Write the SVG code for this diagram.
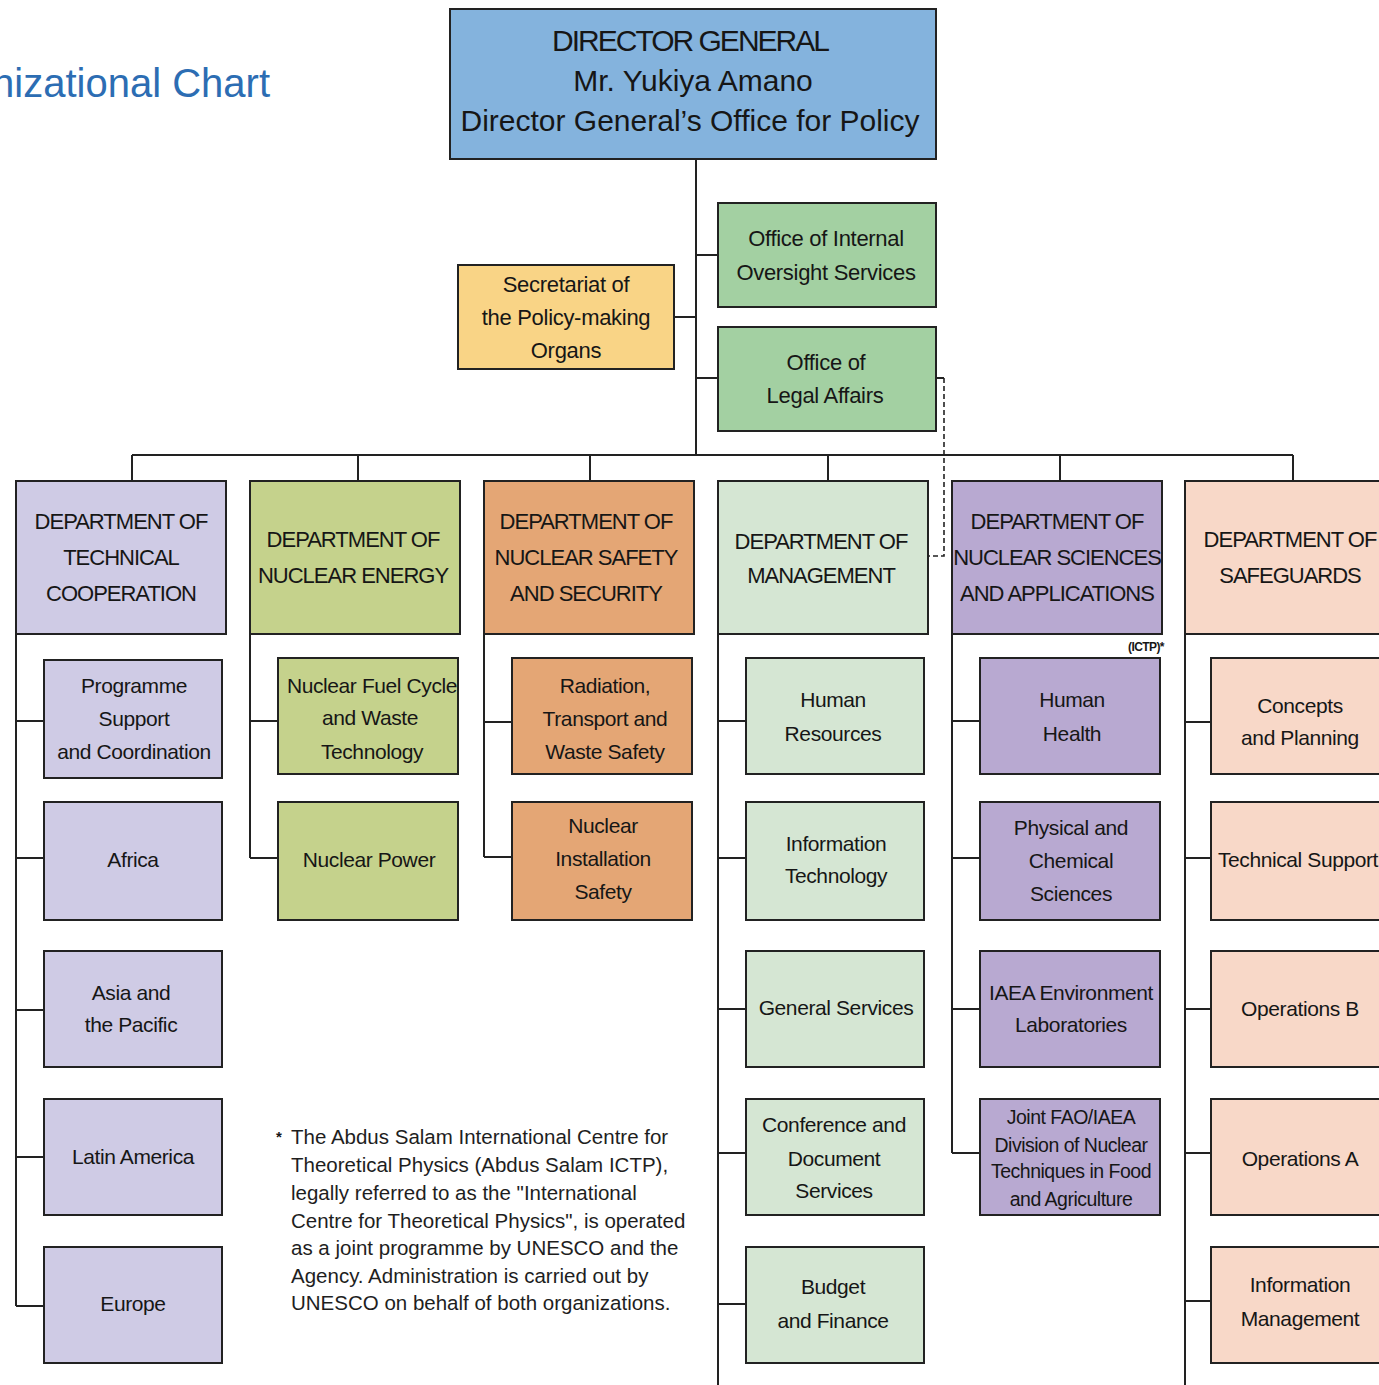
<svg xmlns="http://www.w3.org/2000/svg" width="1379" height="1385" viewBox="0 0 1379 1385">
<style>
text{font-family:"Liberation Sans",Arial,sans-serif;fill:#161616;text-anchor:middle}
.box{stroke:#222;stroke-width:2}
.t30{font-size:30px}
.cap30{font-size:30px;letter-spacing:-2px}
.t22{font-size:22px;letter-spacing:-0.3px}
.dep{font-size:22px;letter-spacing:-1px}
.t21{font-size:21px;letter-spacing:-0.4px}
.t20{font-size:19.5px;letter-spacing:-0.5px}
.note{font-size:20.5px;letter-spacing:0px;text-anchor:start;fill:#1e1e1e}
.ln{fill:none;stroke:#222;stroke-width:2}
.dg{fill:#84b3dd}.og{fill:#a3d0a2}.sec{fill:#f9d486}
.tc{fill:#cfcbe5}.ne{fill:#c5d28c}.ns{fill:#e4a675}.mg{fill:#d5e6d3}.sa{fill:#b8a9d1}.sg{fill:#f8d8c8}
</style>
<rect width="1379" height="1385" fill="#fff"/>
<text x="270" y="97" style="font-size:40px;fill:#2c6db3;text-anchor:end;font-family:'Liberation Sans',Arial,sans-serif">nizational Chart</text>

<g id="connectors">
<path class="ln" d="M696,159 V455 M674,317 H696 M696,255 H718 M696,378 H718"/>
<path class="ln" d="M132,455 H1293 M132,455 V481 M358,455 V481 M590,455 V481 M828,455 V481 M1060,455 V481 M1293,455 V481"/>
<path class="ln" d="M936,378 H944" />
<path d="M944,378 V556 H928" fill="none" stroke="#222" stroke-width="1.6" stroke-dasharray="5,3"/>
<path class="ln" d="M16,634 V1306 M16,721 H44 M16,858 H44 M16,1010 H44 M16,1157 H44 M16,1306 H44"/>
<path class="ln" d="M250,634 V858 M250,721 H278 M250,858 H278"/>
<path class="ln" d="M484,634 V857 M484,722 H512 M484,857 H512"/>
<path class="ln" d="M718,634 V1385 M718,721 H746 M718,858 H746 M718,1009 H746 M718,1153 H746 M718,1304 H746"/>
<path class="ln" d="M952,634 V1153 M952,721 H980 M952,858 H980 M952,1009 H980 M952,1153 H980"/>
<path class="ln" d="M1185,634 V1385 M1185,722 H1211 M1185,858 H1211 M1185,1009 H1211 M1185,1153 H1211 M1185,1301 H1211"/>
</g>

<g id="director-general">
<rect class="box dg" x="450" y="9" width="486" height="150"/>
<text class="cap30" x="690" y="51">DIRECTOR GENERAL</text>
<text class="t30" x="693" y="91">Mr. Yukiya Amano</text>
<text class="t30" x="690" y="131">Director General’s Office for Policy</text>
</g>

<g id="oios"><rect class="box og" x="718" y="203" width="218" height="104"/>
<text class="t22" x="826" y="246">Office of Internal</text><text class="t22" x="826" y="280">Oversight Services</text></g>
<g id="ola"><rect class="box og" x="718" y="327" width="218" height="104"/>
<text class="t22" x="826" y="370">Office of</text><text class="t22" x="825" y="403">Legal Affairs</text></g>
<g id="secretariat"><rect class="box sec" x="458" y="265" width="216" height="104"/>
<text class="t22" x="566" y="292">Secretariat of</text><text class="t22" x="566" y="325">the Policy-making</text><text class="t22" x="566" y="358">Organs</text></g>

<g id="dept-tc"><rect class="box tc" x="16" y="481" width="210" height="153"/>
<text class="dep" x="121" y="529">DEPARTMENT OF</text><text class="dep" x="121" y="565">TECHNICAL</text><text class="dep" x="121" y="601">COOPERATION</text></g>
<g id="dept-ne"><rect class="box ne" x="250" y="481" width="210" height="153"/>
<text class="dep" x="353" y="547">DEPARTMENT OF</text><text class="dep" x="353" y="583">NUCLEAR ENERGY</text></g>
<g id="dept-ns"><rect class="box ns" x="484" y="481" width="210" height="153"/>
<text class="dep" x="586" y="529">DEPARTMENT OF</text><text class="dep" x="586" y="565">NUCLEAR SAFETY</text><text class="dep" x="586" y="601">AND SECURITY</text></g>
<g id="dept-mg"><rect class="box mg" x="718" y="481" width="210" height="153"/>
<text class="dep" x="821" y="549">DEPARTMENT OF</text><text class="dep" x="821" y="583">MANAGEMENT</text></g>
<g id="dept-na"><rect class="box sa" x="952" y="481" width="210" height="153"/>
<text class="dep" x="1057" y="529">DEPARTMENT OF</text><text class="dep" x="1057" y="565">NUCLEAR SCIENCES</text><text class="dep" x="1057" y="601">AND APPLICATIONS</text></g>
<g id="dept-sg"><rect class="box sg" x="1185" y="481" width="210" height="153"/>
<text class="dep" x="1290" y="547">DEPARTMENT OF</text><text class="dep" x="1290" y="583">SAFEGUARDS</text></g>
<text x="1146" y="651" style="font-size:12px;font-weight:bold;letter-spacing:-0.6px">(ICTP)*</text>

<g id="tc-pscs"><rect class="box tc" x="44" y="660" width="178" height="118"/>
<text class="t21" x="134" y="693">Programme</text><text class="t21" x="134" y="726">Support</text><text class="t21" x="134" y="759">and Coordination</text></g>
<g id="tc-africa"><rect class="box tc" x="44" y="802" width="178" height="118"/><text class="t21" x="133" y="867">Africa</text></g>
<g id="tc-asia"><rect class="box tc" x="44" y="951" width="178" height="116"/>
<text class="t21" x="131" y="1000">Asia and</text><text class="t21" x="131" y="1032">the Pacific</text></g>
<g id="tc-latam"><rect class="box tc" x="44" y="1099" width="178" height="116"/><text class="t21" x="133" y="1164">Latin America</text></g>
<g id="tc-europe"><rect class="box tc" x="44" y="1247" width="178" height="116"/><text class="t21" x="133" y="1311">Europe</text></g>

<g id="ne-fuel"><rect class="box ne" x="278" y="658" width="180" height="116"/>
<text class="t21" x="372" y="693">Nuclear Fuel Cycle</text><text class="t21" x="370" y="725">and Waste</text><text class="t21" x="372" y="759">Technology</text></g>
<g id="ne-power"><rect class="box ne" x="278" y="802" width="180" height="118"/><text class="t21" x="369" y="867">Nuclear Power</text></g>

<g id="ns-rtws"><rect class="box ns" x="512" y="658" width="180" height="116"/>
<text class="t21" x="605" y="693">Radiation,</text><text class="t21" x="605" y="726">Transport and</text><text class="t21" x="605" y="759">Waste Safety</text></g>
<g id="ns-nis"><rect class="box ns" x="512" y="802" width="180" height="118"/>
<text class="t21" x="603" y="833">Nuclear</text><text class="t21" x="603" y="866">Installation</text><text class="t21" x="603" y="899">Safety</text></g>

<g id="mg-hr"><rect class="box mg" x="746" y="658" width="178" height="116"/>
<text class="t21" x="833" y="707">Human</text><text class="t21" x="833" y="741">Resources</text></g>
<g id="mg-it"><rect class="box mg" x="746" y="802" width="178" height="118"/>
<text class="t21" x="836" y="851">Information</text><text class="t21" x="836" y="883">Technology</text></g>
<g id="mg-gs"><rect class="box mg" x="746" y="951" width="178" height="116"/><text class="t21" x="836" y="1015">General Services</text></g>
<g id="mg-cds"><rect class="box mg" x="746" y="1099" width="178" height="116"/>
<text class="t21" x="834" y="1132">Conference and</text><text class="t21" x="834" y="1166">Document</text><text class="t21" x="834" y="1198">Services</text></g>
<g id="mg-bf"><rect class="box mg" x="746" y="1247" width="178" height="116"/>
<text class="t21" x="833" y="1294">Budget</text><text class="t21" x="833" y="1328">and Finance</text></g>

<g id="na-hh"><rect class="box sa" x="980" y="658" width="180" height="116"/>
<text class="t21" x="1072" y="707">Human</text><text class="t21" x="1072" y="741">Health</text></g>
<g id="na-pcs"><rect class="box sa" x="980" y="802" width="180" height="118"/>
<text class="t21" x="1071" y="835">Physical and</text><text class="t21" x="1071" y="868">Chemical</text><text class="t21" x="1071" y="901">Sciences</text></g>
<g id="na-env"><rect class="box sa" x="980" y="951" width="180" height="116"/>
<text class="t21" x="1071" y="1000">IAEA Environment</text><text class="t21" x="1071" y="1032">Laboratories</text></g>
<g id="na-fao"><rect class="box sa" x="980" y="1099" width="180" height="116"/>
<text class="t20" x="1071" y="1124">Joint FAO/IAEA</text><text class="t20" x="1071" y="1152">Division of Nuclear</text><text class="t20" x="1071" y="1178">Techniques in Food</text><text class="t20" x="1071" y="1206">and Agriculture</text></g>

<g id="sg-cp"><rect class="box sg" x="1211" y="658" width="180" height="116"/>
<text class="t21" x="1300" y="713">Concepts</text><text class="t21" x="1300" y="745">and Planning</text></g>
<g id="sg-ts"><rect class="box sg" x="1211" y="802" width="180" height="118"/><text class="t21" x="1298" y="867">Technical Support</text></g>
<g id="sg-ob"><rect class="box sg" x="1211" y="951" width="180" height="116"/><text class="t21" x="1300" y="1016">Operations B</text></g>
<g id="sg-oa"><rect class="box sg" x="1211" y="1099" width="180" height="116"/><text class="t21" x="1300" y="1166">Operations A</text></g>
<g id="sg-im"><rect class="box sg" x="1211" y="1247" width="180" height="116"/>
<text class="t21" x="1300" y="1292">Information</text><text class="t21" x="1300" y="1326">Management</text></g>

<g id="footnote">
<text x="276" y="1142" style="font-size:15px;text-anchor:start;font-weight:bold">*</text>
<text class="note" x="291" y="1144">The Abdus Salam International Centre for</text>
<text class="note" x="291" y="1172">Theoretical Physics (Abdus Salam ICTP),</text>
<text class="note" x="291" y="1200">legally referred to as the "International</text>
<text class="note" x="291" y="1228">Centre for Theoretical Physics", is operated</text>
<text class="note" x="291" y="1255">as a joint programme by UNESCO and the</text>
<text class="note" x="291" y="1283">Agency. Administration is carried out by</text>
<text class="note" x="291" y="1310">UNESCO on behalf of both organizations.</text>
</g>
</svg>
